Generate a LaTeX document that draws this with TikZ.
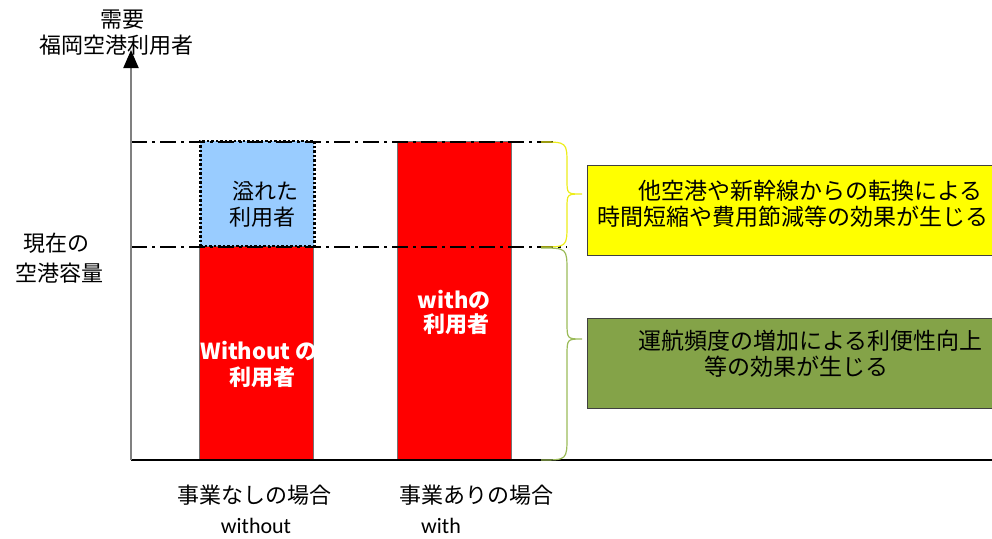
\documentclass[tikz,border=0pt]{standalone}
\usepackage{fontspec}
\setmainfont{Noto Sans CJK JP}
\newfontfamily\lat{Carlito}
\usetikzlibrary{arrows.meta}
\definecolor{barred}{HTML}{FF0000}
\definecolor{overblue}{HTML}{99CCFF}
\definecolor{boxyellow}{HTML}{FFFF00}
\definecolor{boxgreen}{HTML}{84A348}
\definecolor{braceyellow}{HTML}{EDED1A}
\definecolor{bracegreen}{HTML}{9BBB59}
\begin{document}
\begin{tikzpicture}[x=1pt,y=-1pt,
  lbl/.style={font=\fontsize{22}{24}\selectfont, inner sep=0pt},
  latlbl/.style={font=\lat\fontsize{22}{24}\selectfont, inner sep=0pt},
  barlbl/.style={font=\fontsize{22}{24}\selectfont\bfseries, text=white, inner sep=0pt},
  boxlbl/.style={font=\fontsize{23}{25}\selectfont, inner sep=0pt, anchor=west},
  bar/.style={fill=barred, draw=black!55, line width=0.8pt, minimum width=114pt, inner sep=0pt, anchor=south west},
  overbox/.style={fill=overblue, draw=black, dash pattern=on 2.5pt off 2pt, line width=2.5pt, minimum width=114pt, minimum height=105pt, inner sep=0pt, anchor=south west},
  effectbox/.style={draw=black!75, line width=1pt, minimum width=450pt, minimum height=90pt, inner sep=0pt, anchor=north west},
  levelline/.style={black, line width=1.5pt, dash pattern=on 16pt off 5pt on 3pt off 5pt},
  bracestyle/.style={line width=1.2pt},
]
\useasboundingbox (0,0) rectangle (992,538);
\clip (0,0) rectangle (992,538);

% bars
\node[bar, minimum height=213pt] (withoutbar) at (199,460) {};
\node[bar, minimum height=318pt] (withbar) at (397,460) {};
\node[overbox] (overbar) at (199,247) {};

% level lines
\coordinate (topL) at (131,142);
\coordinate (topR) at (555,142);
\coordinate (capL) at (131,247);
\coordinate (capR) at (567,247);
\draw[levelline] (topL) -- (topR);
\draw[levelline] (capL) -- (capR);

% axes
\coordinate (origin) at (131,460);
\coordinate (ytip) at (131,50);
\coordinate (xend) at (992,460);
\draw[black, line width=1.5pt] (origin) -- (xend);
\draw[black!50, line width=2pt, -{Triangle[length=18pt,width=15pt,color=black]}] (origin) -- (ytip);

% braces
\draw[bracestyle, braceyellow] (541,142) .. controls (567,142) .. (567,165) -- (567,180)
   .. controls (567,194) .. (582,194) .. controls (567,194) .. (567,208) -- (567,224)
   .. controls (567,247) .. (541,247);
\draw[bracestyle, bracegreen] (541,248) .. controls (567,248) .. (567,272) -- (567,322)
   .. controls (567,339) .. (582,339) .. controls (567,339) .. (567,356) -- (567,436)
   .. controls (567,460) .. (541,460);

% effect boxes
\node[effectbox, fill=boxyellow] (ybox) at (587,165) {};
\node[effectbox, fill=boxgreen] (gbox) at (587,318) {};
\node[boxlbl] (y1) at (638,191) {他空港や新幹線からの転換による};
\node[boxlbl] (y2) at (597,217) {時間短縮や費用節減等の効果が生じる};
\node[boxlbl] (g1) at (638,341) {運航頻度の増加による利便性向上};
\node[boxlbl] (g2) at (704,367) {等の効果が生じる};

% axis labels
\node[lbl] (dem) at (122,20) {需要};
\node[lbl] (users) at (116,45) {福岡空港利用者};
\node[lbl] (cap1) at (56,243) {現在の};
\node[lbl] (cap2) at (59,273) {空港容量};

% bar labels
\node[lbl] (ov1) at (265,191) {溢れた};
\node[lbl] (ov2) at (262,217) {利用者};
\node[barlbl] (wo1) at (259,351) {Without の};
\node[barlbl] (wo2) at (262,377) {利用者};
\node[barlbl] (w1) at (454,300) {withの};
\node[barlbl] (w2) at (456,324) {利用者};

% bottom labels
\node[lbl] (case1) at (254,495) {事業なしの場合};
\node[latlbl] (case1e) at (256,526) {without};
\node[lbl] (case2) at (476,495) {事業ありの場合};
\node[latlbl] (case2e) at (441,526) {with};
\end{tikzpicture}
\end{document}
